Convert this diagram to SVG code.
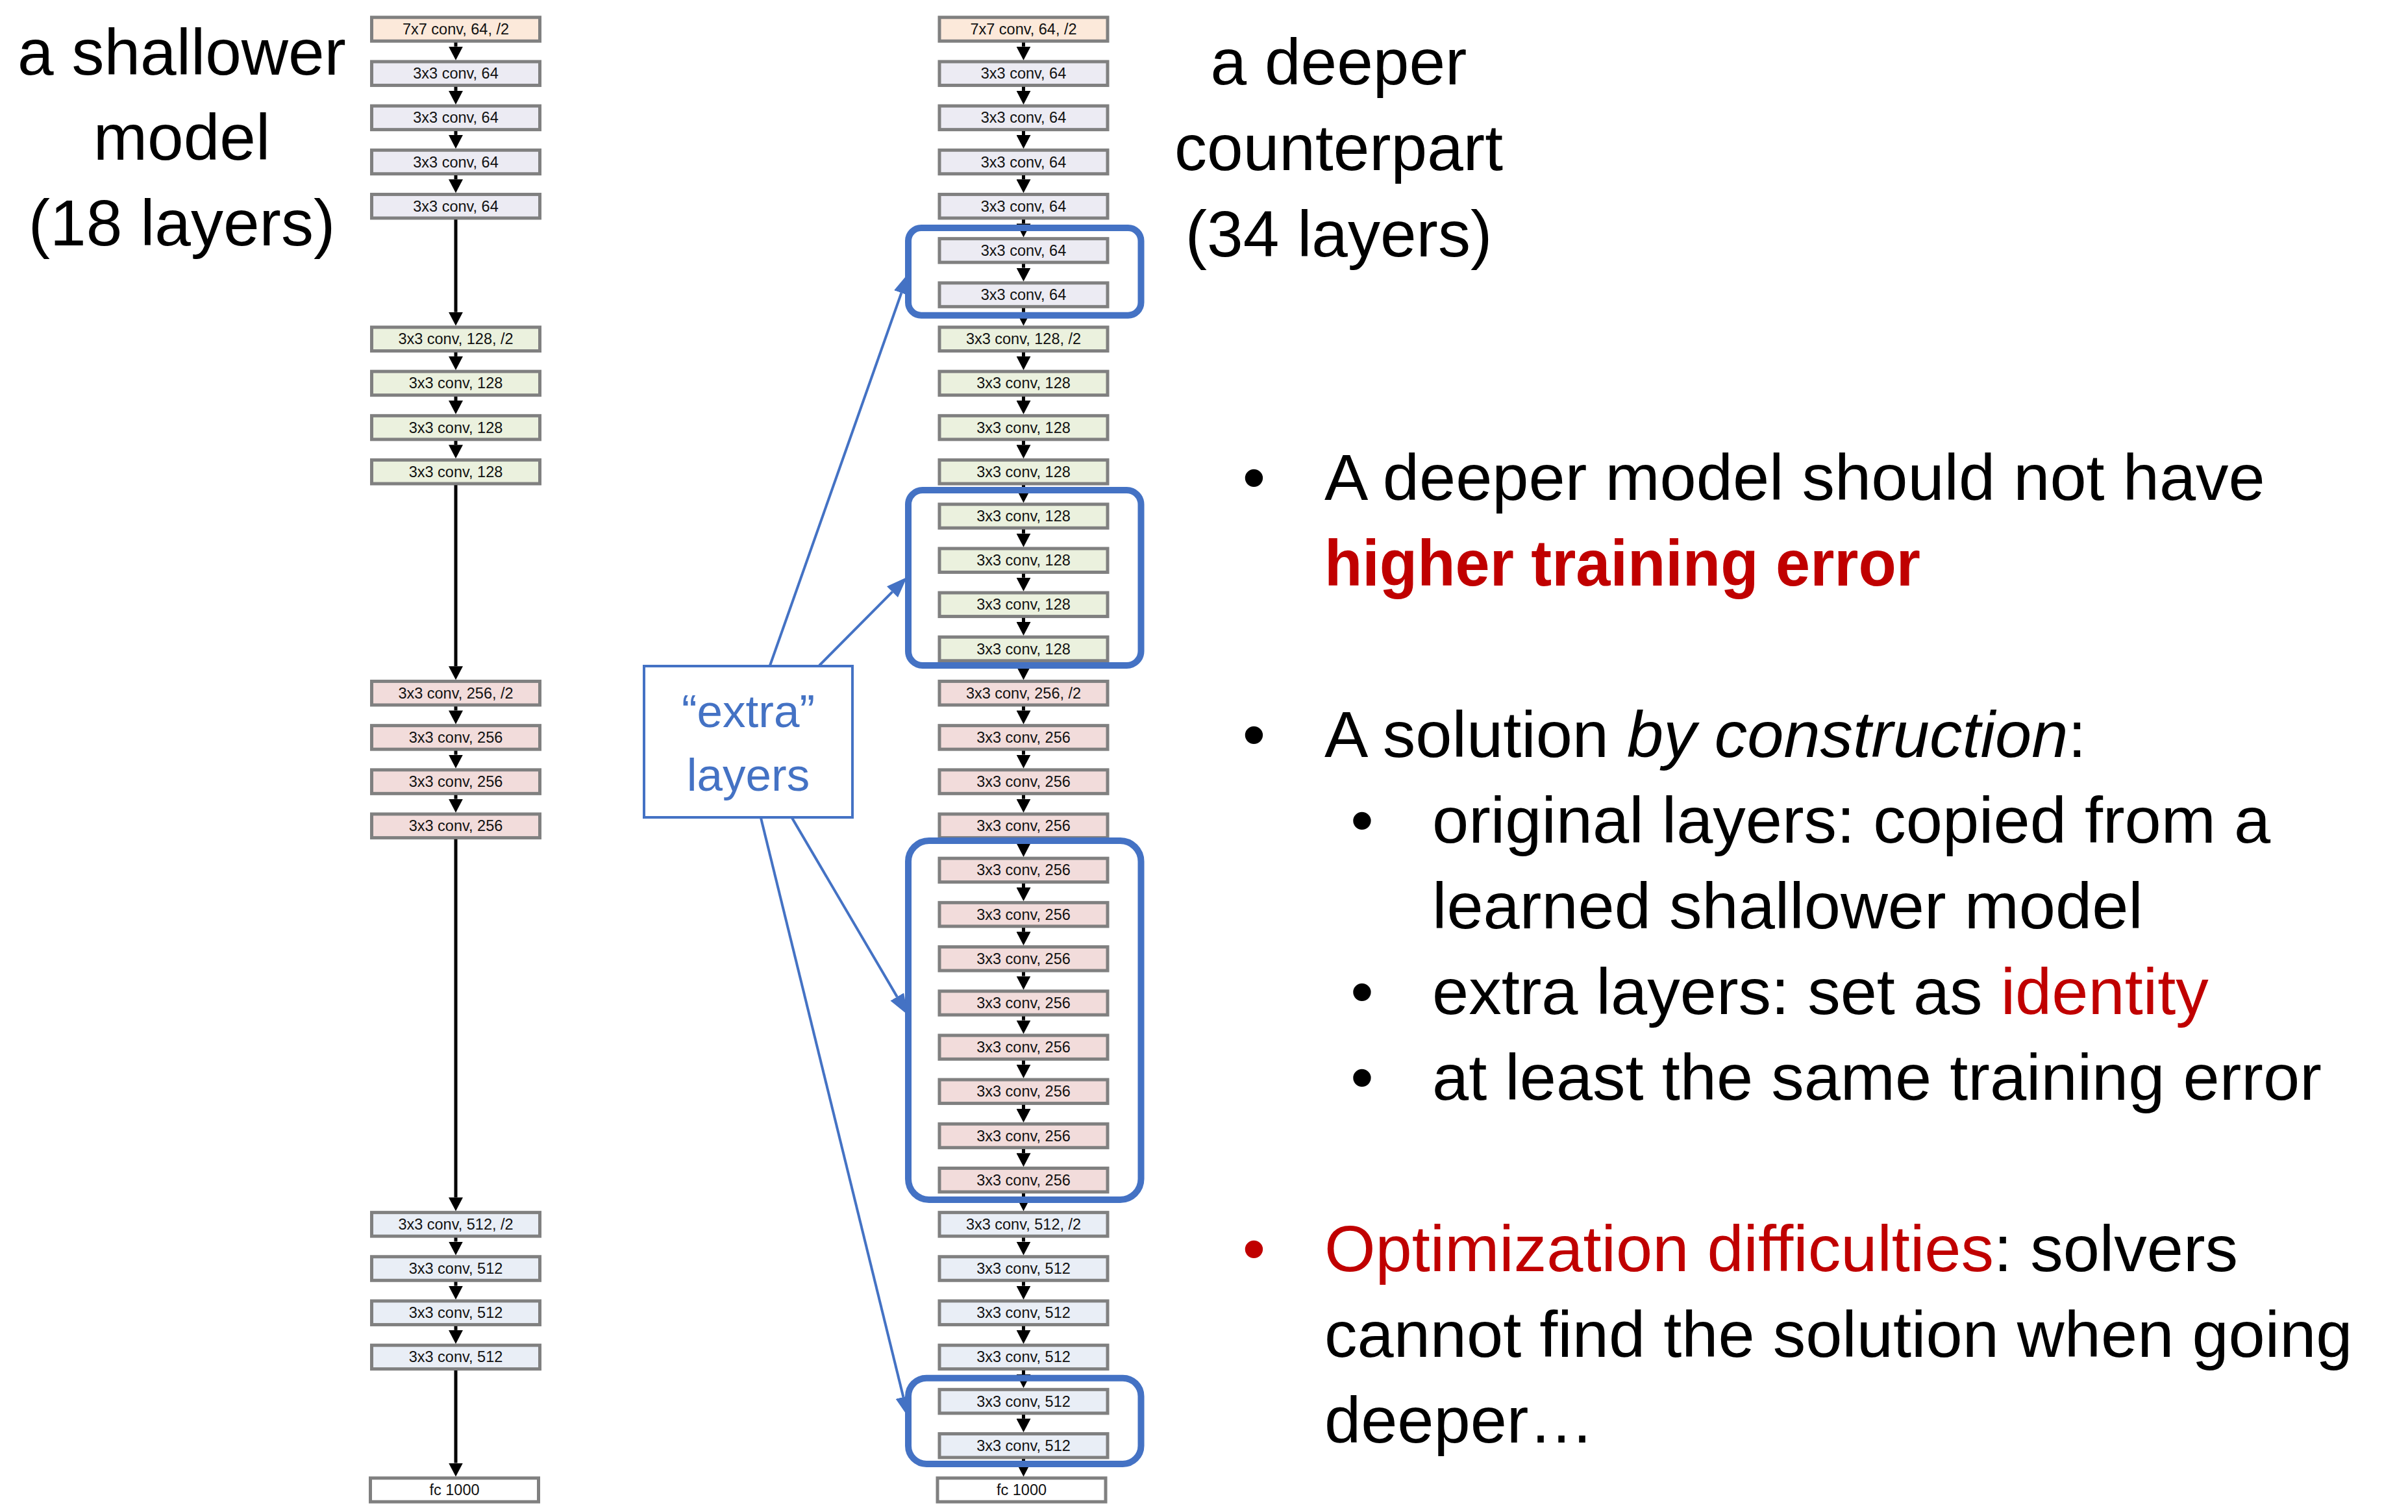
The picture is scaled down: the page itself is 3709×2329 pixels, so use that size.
<svg xmlns="http://www.w3.org/2000/svg" width="3709" height="2329" viewBox="0 0 3709 2329">
<style>
.bx{stroke:#808080;stroke-width:5}
.c7{fill:#fce9da}.c64{fill:#ecebf3}.c128{fill:#ebf1de}.c256{fill:#f2dcdb}.c512{fill:#e9eef6}.cfc{fill:#ffffff}
.lbl{font-family:"Liberation Sans",Arial,sans-serif;font-size:23.5px;fill:#111;text-anchor:middle}
.hd{font-family:"Liberation Sans",Arial,sans-serif;font-size:100px;fill:#000;text-anchor:middle}
.tx{font-family:"Liberation Sans",Arial,sans-serif;font-size:101px;fill:#000}
.bul{font-family:"Liberation Sans",Arial,sans-serif;font-size:101px;text-anchor:middle}
.red{fill:#c00000}
.ar{stroke:#000;stroke-width:5;fill:none}
.grp{fill:none;stroke:#4472c4;stroke-width:10}
.bar{stroke:#4472c4;stroke-width:4;fill:none}
.ext{font-family:"Liberation Sans",Arial,sans-serif;font-size:71px;fill:#4472c4;text-anchor:middle}
</style>
<defs>
<marker id="ah" markerUnits="userSpaceOnUse" markerWidth="22" markerHeight="22" refX="0" refY="11" orient="auto" viewBox="0 0 22 22"><path d="M0,0 L21,11 L0,22 z" fill="#000"/></marker>
<marker id="bh" markerUnits="userSpaceOnUse" markerWidth="32" markerHeight="24" refX="0" refY="12" orient="auto" viewBox="0 0 32 24"><path d="M0,0 L32,12 L0,24 z" fill="#4472c4"/></marker>
</defs>
<rect width="3709" height="2329" fill="#fff"/>

<!-- headings -->
<g id="title-shallow">
<text class="hd" x="280" y="115">a shallower</text>
<text class="hd" x="280" y="246">model</text>
<text class="hd" x="280" y="378">(18 layers)</text>
</g>
<g id="title-deep">
<text class="hd" x="2062" y="130">a deeper</text>
<text class="hd" x="2062" y="262">counterpart</text>
<text class="hd" x="2062" y="395">(34 layers)</text>
</g>

<!-- left (shallow) column -->
<g id="L0"><rect class="bx c7" x="572.5" y="26.75" width="259" height="36.5"/><text class="lbl" x="702" y="53">7x7 conv, 64, /2</text></g>
<g id="L1"><rect class="bx c64" x="572.5" y="94.95" width="259" height="36.5"/><text class="lbl" x="702" y="121.2">3x3 conv, 64</text></g>
<g id="L2"><rect class="bx c64" x="572.5" y="163.15" width="259" height="36.5"/><text class="lbl" x="702" y="189.4">3x3 conv, 64</text></g>
<g id="L3"><rect class="bx c64" x="572.5" y="231.25" width="259" height="36.5"/><text class="lbl" x="702" y="257.5">3x3 conv, 64</text></g>
<g id="L4"><rect class="bx c64" x="572.5" y="299.45" width="259" height="36.5"/><text class="lbl" x="702" y="325.7">3x3 conv, 64</text></g>
<g id="L7"><rect class="bx c128" x="572.5" y="504.05" width="259" height="36.5"/><text class="lbl" x="702" y="530.3">3x3 conv, 128, /2</text></g>
<g id="L8"><rect class="bx c128" x="572.5" y="572.15" width="259" height="36.5"/><text class="lbl" x="702" y="598.4">3x3 conv, 128</text></g>
<g id="L9"><rect class="bx c128" x="572.5" y="640.35" width="259" height="36.5"/><text class="lbl" x="702" y="666.6">3x3 conv, 128</text></g>
<g id="L10"><rect class="bx c128" x="572.5" y="708.55" width="259" height="36.5"/><text class="lbl" x="702" y="734.8">3x3 conv, 128</text></g>
<g id="L15"><rect class="bx c256" x="572.5" y="1049.45" width="259" height="36.5"/><text class="lbl" x="702" y="1075.7">3x3 conv, 256, /2</text></g>
<g id="L16"><rect class="bx c256" x="572.5" y="1117.65" width="259" height="36.5"/><text class="lbl" x="702" y="1143.9">3x3 conv, 256</text></g>
<g id="L17"><rect class="bx c256" x="572.5" y="1185.85" width="259" height="36.5"/><text class="lbl" x="702" y="1212.1">3x3 conv, 256</text></g>
<g id="L18"><rect class="bx c256" x="572.5" y="1253.95" width="259" height="36.5"/><text class="lbl" x="702" y="1280.2">3x3 conv, 256</text></g>
<g id="L27"><rect class="bx c512" x="572.5" y="1867.65" width="259" height="36.5"/><text class="lbl" x="702" y="1893.9">3x3 conv, 512, /2</text></g>
<g id="L28"><rect class="bx c512" x="572.5" y="1935.75" width="259" height="36.5"/><text class="lbl" x="702" y="1962">3x3 conv, 512</text></g>
<g id="L29"><rect class="bx c512" x="572.5" y="2003.95" width="259" height="36.5"/><text class="lbl" x="702" y="2030.2">3x3 conv, 512</text></g>
<g id="L30"><rect class="bx c512" x="572.5" y="2072.15" width="259" height="36.5"/><text class="lbl" x="702" y="2098.4">3x3 conv, 512</text></g>
<g id="L33"><rect class="bx cfc" x="570.5" y="2276.75" width="259" height="36.5"/><text class="lbl" x="700" y="2303">fc 1000</text></g>

<!-- right (deep) column -->
<g id="R0"><rect class="bx c7" x="1447" y="26.75" width="259" height="36.5"/><text class="lbl" x="1576.5" y="53">7x7 conv, 64, /2</text></g>
<g id="R1"><rect class="bx c64" x="1447" y="94.95" width="259" height="36.5"/><text class="lbl" x="1576.5" y="121.2">3x3 conv, 64</text></g>
<g id="R2"><rect class="bx c64" x="1447" y="163.15" width="259" height="36.5"/><text class="lbl" x="1576.5" y="189.4">3x3 conv, 64</text></g>
<g id="R3"><rect class="bx c64" x="1447" y="231.25" width="259" height="36.5"/><text class="lbl" x="1576.5" y="257.5">3x3 conv, 64</text></g>
<g id="R4"><rect class="bx c64" x="1447" y="299.45" width="259" height="36.5"/><text class="lbl" x="1576.5" y="325.7">3x3 conv, 64</text></g>
<g id="R5"><rect class="bx c64" x="1447" y="367.65" width="259" height="36.5"/><text class="lbl" x="1576.5" y="393.9">3x3 conv, 64</text></g>
<g id="R6"><rect class="bx c64" x="1447" y="435.85" width="259" height="36.5"/><text class="lbl" x="1576.5" y="462.1">3x3 conv, 64</text></g>
<g id="R7"><rect class="bx c128" x="1447" y="504.05" width="259" height="36.5"/><text class="lbl" x="1576.5" y="530.3">3x3 conv, 128, /2</text></g>
<g id="R8"><rect class="bx c128" x="1447" y="572.15" width="259" height="36.5"/><text class="lbl" x="1576.5" y="598.4">3x3 conv, 128</text></g>
<g id="R9"><rect class="bx c128" x="1447" y="640.35" width="259" height="36.5"/><text class="lbl" x="1576.5" y="666.6">3x3 conv, 128</text></g>
<g id="R10"><rect class="bx c128" x="1447" y="708.55" width="259" height="36.5"/><text class="lbl" x="1576.5" y="734.8">3x3 conv, 128</text></g>
<g id="R11"><rect class="bx c128" x="1447" y="776.75" width="259" height="36.5"/><text class="lbl" x="1576.5" y="803">3x3 conv, 128</text></g>
<g id="R12"><rect class="bx c128" x="1447" y="844.95" width="259" height="36.5"/><text class="lbl" x="1576.5" y="871.2">3x3 conv, 128</text></g>
<g id="R13"><rect class="bx c128" x="1447" y="913.05" width="259" height="36.5"/><text class="lbl" x="1576.5" y="939.3">3x3 conv, 128</text></g>
<g id="R14"><rect class="bx c128" x="1447" y="981.25" width="259" height="36.5"/><text class="lbl" x="1576.5" y="1007.5">3x3 conv, 128</text></g>
<g id="R15"><rect class="bx c256" x="1447" y="1049.45" width="259" height="36.5"/><text class="lbl" x="1576.5" y="1075.7">3x3 conv, 256, /2</text></g>
<g id="R16"><rect class="bx c256" x="1447" y="1117.65" width="259" height="36.5"/><text class="lbl" x="1576.5" y="1143.9">3x3 conv, 256</text></g>
<g id="R17"><rect class="bx c256" x="1447" y="1185.85" width="259" height="36.5"/><text class="lbl" x="1576.5" y="1212.1">3x3 conv, 256</text></g>
<g id="R18"><rect class="bx c256" x="1447" y="1253.95" width="259" height="36.5"/><text class="lbl" x="1576.5" y="1280.2">3x3 conv, 256</text></g>
<g id="R19"><rect class="bx c256" x="1447" y="1322.15" width="259" height="36.5"/><text class="lbl" x="1576.5" y="1348.4">3x3 conv, 256</text></g>
<g id="R20"><rect class="bx c256" x="1447" y="1390.35" width="259" height="36.5"/><text class="lbl" x="1576.5" y="1416.6">3x3 conv, 256</text></g>
<g id="R21"><rect class="bx c256" x="1447" y="1458.55" width="259" height="36.5"/><text class="lbl" x="1576.5" y="1484.8">3x3 conv, 256</text></g>
<g id="R22"><rect class="bx c256" x="1447" y="1526.75" width="259" height="36.5"/><text class="lbl" x="1576.5" y="1553">3x3 conv, 256</text></g>
<g id="R23"><rect class="bx c256" x="1447" y="1594.85" width="259" height="36.5"/><text class="lbl" x="1576.5" y="1621.1">3x3 conv, 256</text></g>
<g id="R24"><rect class="bx c256" x="1447" y="1663.05" width="259" height="36.5"/><text class="lbl" x="1576.5" y="1689.3">3x3 conv, 256</text></g>
<g id="R25"><rect class="bx c256" x="1447" y="1731.25" width="259" height="36.5"/><text class="lbl" x="1576.5" y="1757.5">3x3 conv, 256</text></g>
<g id="R26"><rect class="bx c256" x="1447" y="1799.45" width="259" height="36.5"/><text class="lbl" x="1576.5" y="1825.7">3x3 conv, 256</text></g>
<g id="R27"><rect class="bx c512" x="1447" y="1867.65" width="259" height="36.5"/><text class="lbl" x="1576.5" y="1893.9">3x3 conv, 512, /2</text></g>
<g id="R28"><rect class="bx c512" x="1447" y="1935.75" width="259" height="36.5"/><text class="lbl" x="1576.5" y="1962">3x3 conv, 512</text></g>
<g id="R29"><rect class="bx c512" x="1447" y="2003.95" width="259" height="36.5"/><text class="lbl" x="1576.5" y="2030.2">3x3 conv, 512</text></g>
<g id="R30"><rect class="bx c512" x="1447" y="2072.15" width="259" height="36.5"/><text class="lbl" x="1576.5" y="2098.4">3x3 conv, 512</text></g>
<g id="R31"><rect class="bx c512" x="1447" y="2140.35" width="259" height="36.5"/><text class="lbl" x="1576.5" y="2166.6">3x3 conv, 512</text></g>
<g id="R32"><rect class="bx c512" x="1447" y="2208.55" width="259" height="36.5"/><text class="lbl" x="1576.5" y="2234.8">3x3 conv, 512</text></g>
<g id="R33"><rect class="bx cfc" x="1444" y="2276.75" width="259" height="36.5"/><text class="lbl" x="1573.5" y="2303">fc 1000</text></g>

<!-- connectors -->
<g id="connectors">
<g id="left-arrows" class="ar">
<line x1="702" y1="65.5" x2="702" y2="71.7" marker-end="url(#ah)"/>
<line x1="702" y1="133.7" x2="702" y2="139.9" marker-end="url(#ah)"/>
<line x1="702" y1="201.9" x2="702" y2="207.9" marker-end="url(#ah)"/>
<line x1="702" y1="270" x2="702" y2="276.2" marker-end="url(#ah)"/>
<line x1="702" y1="338.2" x2="702" y2="480.8" marker-end="url(#ah)"/>
<line x1="702" y1="542.8" x2="702" y2="548.9" marker-end="url(#ah)"/>
<line x1="702" y1="610.9" x2="702" y2="617.1" marker-end="url(#ah)"/>
<line x1="702" y1="679.1" x2="702" y2="685.3" marker-end="url(#ah)"/>
<line x1="702" y1="747.3" x2="702" y2="1026.2" marker-end="url(#ah)"/>
<line x1="702" y1="1088.2" x2="702" y2="1094.4" marker-end="url(#ah)"/>
<line x1="702" y1="1156.4" x2="702" y2="1162.6" marker-end="url(#ah)"/>
<line x1="702" y1="1224.6" x2="702" y2="1230.7" marker-end="url(#ah)"/>
<line x1="702" y1="1292.7" x2="702" y2="1844.4" marker-end="url(#ah)"/>
<line x1="702" y1="1906.4" x2="702" y2="1912.5" marker-end="url(#ah)"/>
<line x1="702" y1="1974.5" x2="702" y2="1980.7" marker-end="url(#ah)"/>
<line x1="702" y1="2042.7" x2="702" y2="2048.9" marker-end="url(#ah)"/>
<line x1="702" y1="2110.9" x2="702" y2="2253.5" marker-end="url(#ah)"/>
</g>
<g id="right-arrows" class="ar">
<line x1="1576.5" y1="65.5" x2="1576.5" y2="71.7" marker-end="url(#ah)"/>
<line x1="1576.5" y1="133.7" x2="1576.5" y2="139.9" marker-end="url(#ah)"/>
<line x1="1576.5" y1="201.9" x2="1576.5" y2="208" marker-end="url(#ah)"/>
<line x1="1576.5" y1="270" x2="1576.5" y2="276.2" marker-end="url(#ah)"/>
<line x1="1576.5" y1="338.2" x2="1576.5" y2="344.4" marker-end="url(#ah)"/>
<line x1="1576.5" y1="406.4" x2="1576.5" y2="412.6" marker-end="url(#ah)"/>
<line x1="1576.5" y1="474.6" x2="1576.5" y2="480.8" marker-end="url(#ah)"/>
<line x1="1576.5" y1="542.8" x2="1576.5" y2="548.9" marker-end="url(#ah)"/>
<line x1="1576.5" y1="610.9" x2="1576.5" y2="617.1" marker-end="url(#ah)"/>
<line x1="1576.5" y1="679.1" x2="1576.5" y2="685.3" marker-end="url(#ah)"/>
<line x1="1576.5" y1="747.3" x2="1576.5" y2="753.5" marker-end="url(#ah)"/>
<line x1="1576.5" y1="815.5" x2="1576.5" y2="821.7" marker-end="url(#ah)"/>
<line x1="1576.5" y1="883.7" x2="1576.5" y2="889.8" marker-end="url(#ah)"/>
<line x1="1576.5" y1="951.8" x2="1576.5" y2="958" marker-end="url(#ah)"/>
<line x1="1576.5" y1="1020" x2="1576.5" y2="1026.2" marker-end="url(#ah)"/>
<line x1="1576.5" y1="1088.2" x2="1576.5" y2="1094.4" marker-end="url(#ah)"/>
<line x1="1576.5" y1="1156.4" x2="1576.5" y2="1162.6" marker-end="url(#ah)"/>
<line x1="1576.5" y1="1224.6" x2="1576.5" y2="1230.7" marker-end="url(#ah)"/>
<line x1="1576.5" y1="1292.7" x2="1576.5" y2="1298.9" marker-end="url(#ah)"/>
<line x1="1576.5" y1="1360.9" x2="1576.5" y2="1367.1" marker-end="url(#ah)"/>
<line x1="1576.5" y1="1429.1" x2="1576.5" y2="1435.3" marker-end="url(#ah)"/>
<line x1="1576.5" y1="1497.3" x2="1576.5" y2="1503.5" marker-end="url(#ah)"/>
<line x1="1576.5" y1="1565.5" x2="1576.5" y2="1571.6" marker-end="url(#ah)"/>
<line x1="1576.5" y1="1633.6" x2="1576.5" y2="1639.8" marker-end="url(#ah)"/>
<line x1="1576.5" y1="1701.8" x2="1576.5" y2="1708" marker-end="url(#ah)"/>
<line x1="1576.5" y1="1770" x2="1576.5" y2="1776.2" marker-end="url(#ah)"/>
<line x1="1576.5" y1="1838.2" x2="1576.5" y2="1844.4" marker-end="url(#ah)"/>
<line x1="1576.5" y1="1906.4" x2="1576.5" y2="1912.5" marker-end="url(#ah)"/>
<line x1="1576.5" y1="1974.5" x2="1576.5" y2="1980.7" marker-end="url(#ah)"/>
<line x1="1576.5" y1="2042.7" x2="1576.5" y2="2048.9" marker-end="url(#ah)"/>
<line x1="1576.5" y1="2110.9" x2="1576.5" y2="2117.1" marker-end="url(#ah)"/>
<line x1="1576.5" y1="2179.1" x2="1576.5" y2="2185.3" marker-end="url(#ah)"/>
<line x1="1576.5" y1="2247.3" x2="1576.5" y2="2253.5" marker-end="url(#ah)"/>
</g>
</g>

<!-- extra-layer groups -->
<g id="group-64"><rect class="grp" x="1399" y="351" width="358.5" height="134.7" rx="20"/></g>
<g id="group-128"><rect class="grp" x="1399" y="755" width="358.5" height="270" rx="22"/></g>
<g id="group-256"><rect class="grp" x="1399" y="1295" width="358.5" height="553" rx="32"/></g>
<g id="group-512"><rect class="grp" x="1399" y="2122.7" width="358.5" height="132.3" rx="28"/></g>

<!-- blue connectors -->
<g id="extra-connectors" class="bar">
<line x1="1186" y1="1025" x2="1388.4" y2="451.2" marker-end="url(#bh)"/>
<line x1="1262" y1="1025" x2="1374.5" y2="911.7" marker-end="url(#bh)"/>
<line x1="1220" y1="1260" x2="1381.8" y2="1535.4" marker-end="url(#bh)"/>
<line x1="1172" y1="1260" x2="1391.4" y2="2151.9" marker-end="url(#bh)"/>
</g>

<g id="extra-label">
<rect x="992" y="1026" width="321" height="233" fill="#fff" stroke="#4472c4" stroke-width="4"/>
<text class="ext" x="1152.5" y="1120">“extra”</text>
<text class="ext" x="1152.5" y="1218">layers</text>
</g>

<!-- bullet text -->
<g id="bullets">
<text class="bul" x="1931.5" y="770">•</text>
<text class="tx" x="2040" y="770">A deeper model should not have</text>
<text class="tx red" x="2040" y="902" font-weight="bold" textLength="918" lengthAdjust="spacingAndGlyphs">higher training error</text>

<text class="bul" x="1931.5" y="1166">•</text>
<text class="tx" x="2040" y="1166">A solution <tspan font-style="italic">by construction</tspan>:</text>

<text class="bul" x="2098" y="1298">•</text>
<text class="tx" x="2206" y="1298">original layers: copied from a</text>
<text class="tx" x="2206" y="1430">learned shallower model</text>
<text class="bul" x="2098" y="1562">•</text>
<text class="tx" x="2206" y="1562">extra layers: set as <tspan class="red">identity</tspan></text>
<text class="bul" x="2098" y="1694">•</text>
<text class="tx" x="2206" y="1694">at least the same training error</text>

<text class="bul red" x="1931.5" y="1958">•</text>
<text class="tx" x="2040" y="1958"><tspan class="red">Optimization difficulties</tspan>: solvers</text>
<text class="tx" x="2040" y="2090">cannot find the solution when going</text>
<text class="tx" x="2040" y="2222">deeper…</text>
</g>
</svg>
